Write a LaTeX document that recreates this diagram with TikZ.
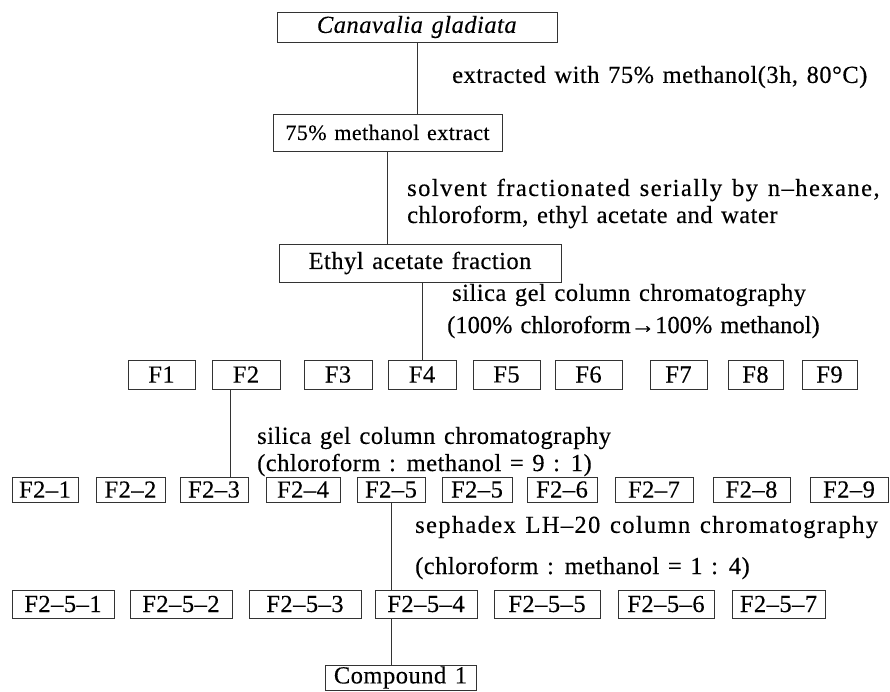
\documentclass[tikz,border=0pt]{standalone}
\usepackage{fontspec}
\setmainfont{Liberation Serif}[LetterSpace=2,WordSpace=1.3,FakeBold=0.3]
\usepackage{tikz}

\newcommand\fs{\fontsize{24.5}{29}\selectfont}

\begin{document}
\begin{tikzpicture}[x=1pt,y=-1pt,
    box/.style={draw=black!80,line width=0.6pt,inner sep=0pt,font=\fs},
    note/.style={anchor=west,inner sep=0pt,font=\fs},
    link/.style={draw=black!80,line width=0.6pt}]
  \useasboundingbox (0,0) rectangle (890,691);
  % plant, extract, fraction
  \node[box,minimum width=280,minimum height=30] (plant) at (417,27) {\textit{Canavalia gladiata}};
  \node[box,minimum width=229,minimum height=37,font=\fontsize{22}{26}\selectfont] (extr) at (387.5,132.5) {75\% methanol extract};
  \node[box,minimum width=282,minimum height=38] (etac) at (420,263) {Ethyl acetate fraction};
  % fractions F1-F9
  \foreach \i/\c/\w in {1/161.5/67,2/246/68,3/338/68,4/422/68,5/506.5/67,6/588.5/67,7/678.5/57,8/755.5/55,9/829.5/55}
    \node[box,minimum width=\w,minimum height=29] (F\i) at (\c,374.5) {F\i};
  % subfractions of F2
  \foreach \i/\t/\c/\w in {1/F2–1/45/66,2/F2–2/130.5/69,3/F2–3/214/68,4/F2–4/303/74,5/F2–5/391/68,
      6/F2–5/477/70,7/F2–6/562/70,8/F2–7/654/78,9/F2–8/751.5/77,10/F2–9/849/78}
    \node[box,minimum width=\w,minimum height=25] (G\i) at (\c,489.5) {\t};
  % subfractions of F2-5
  \foreach \i/\c/\w in {1/63/102,2/181/102,3/305/112,4/426/102,5/547/106,6/666/96,7/778.5/93}
    \node[box,minimum width=\w,minimum height=28] (H\i) at (\c,604) {F2–5–\i};
  \node[box,minimum width=151,minimum height=25] (cmp) at (400.5,677.5) {Compound 1};

  \coordinate (k2) at (230,0);
  \draw[link] (plant.south) -- (plant.south |- extr.north);
  \draw[link] (extr.south) -- (extr.south |- etac.north);
  \draw[link] (F4.north) -- (F4.north |- etac.south);
  \draw[link] (F2.south -| k2) -- (G3.north -| k2);
  \draw[link] (G5.south) -- (G5.south |- H4.north);
  \draw[link] (H4.south -| G5) -- (cmp.north -| G5);

  % step labels
  \node[note] (t1) at (452,77) {extracted with 75\% methanol(3h, 80°C)};
  \node[note] (t2) at (407,190) {\addfontfeature{LetterSpace=6}solvent fractionated serially by n–hexane,};
  \node[note] (t3) at (407,217) {chloroform, ethyl acetate and water};
  \node[note] (t4) at (452,295) {silica gel column chromatography};
  \node[note] (t5) at (447,327) {\addfontfeature{LetterSpace=0}(100\% chloroform→100\% methanol)};
  \node[note] (t6) at (257,438) {silica gel column chromatography};
  \node[note] (t7) at (257,465) {(chloroform : methanol = 9 : 1)};
  \node[note] (t8) at (415,527) {\addfontfeature{LetterSpace=5.5}sephadex LH–20 column chromatography};
  \node[note] (t9) at (415,568) {(chloroform : methanol = 1 : 4)};
\end{tikzpicture}
\end{document}
